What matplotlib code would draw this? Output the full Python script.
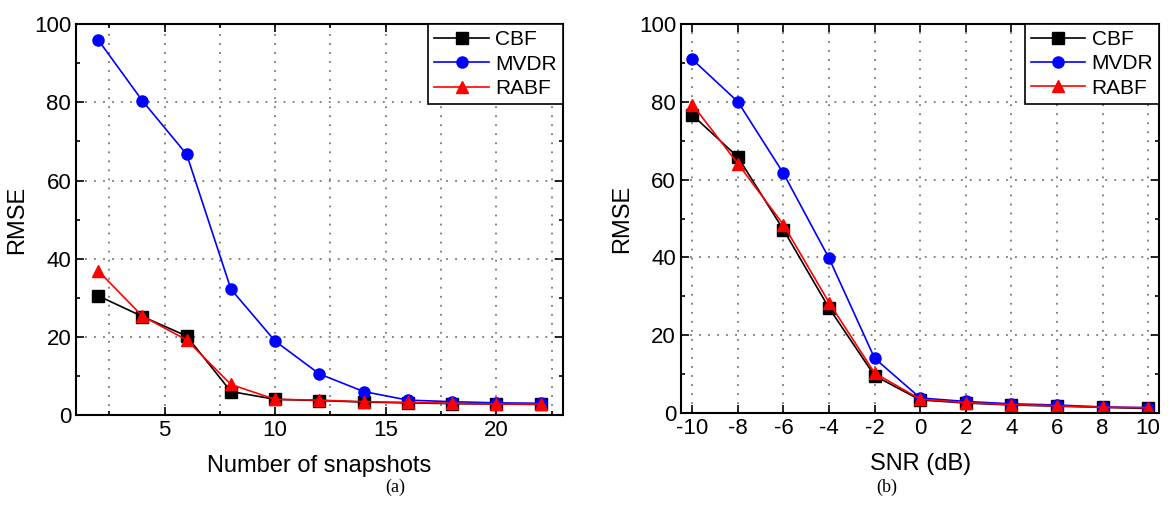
import matplotlib.pyplot as plt
from matplotlib.ticker import MultipleLocator

# ===============================================
# data
# ===============================================
snapshots = [2, 4, 6, 8, 10, 12, 14, 16, 18, 20, 22]
cbf_a = [30.5, 25.2, 20.2, 6.0, 4.0, 3.7, 3.3, 3.1, 2.9, 2.8, 2.7]
mvdr_a = [96.0, 80.4, 66.7, 32.2, 18.9, 10.5, 6.0, 3.8, 3.4, 3.1, 3.0]
rabf_a = [36.9, 25.3, 19.2, 7.8, 4.0, 3.8, 3.4, 3.2, 3.0, 2.8, 2.8]

snr = [-10, -8, -6, -4, -2, 0, 2, 4, 6, 8, 10]
cbf_b = [76.6, 65.8, 47.1, 27.0, 9.6, 3.4, 2.6, 2.1, 1.8, 1.5, 1.2]
mvdr_b = [90.9, 80.0, 61.6, 39.8, 14.1, 3.9, 3.0, 2.4, 2.1, 1.6, 1.4]
rabf_b = [79.3, 64.1, 48.4, 28.4, 10.3, 3.6, 2.7, 2.2, 1.9, 1.5, 1.4]

labels = ['CBF', 'MVDR', 'RABF']
colors = ['black', 'blue', 'red']
markers = ['s', 'o', '^']

plt.rcParams['font.family'] = ['Liberation Sans', 'DejaVu Sans']

fig = plt.figure(figsize=(11.7, 5.21), dpi=100)
ax1 = fig.add_axes([0.065, 0.2035, 0.416, 0.750])
ax2 = fig.add_axes([0.582, 0.207, 0.409, 0.747])

grid_style = dict(color='#777777', linestyle=(0, (1, 4)), linewidth=1.3)


def draw(ax, x, series, xlabel):
    for y, label, c, m in zip(series, labels, colors, markers):
        ax.plot(x, y, color=c, marker=m, markersize=8, linewidth=1.2, label=label)
    ax.set_ylim(0, 100)
    ax.yaxis.set_major_locator(MultipleLocator(20))
    ax.yaxis.set_minor_locator(MultipleLocator(10))
    ax.tick_params(which='both', direction='in', top=True, right=True, labelsize=16, width=1.2)
    ax.tick_params(which='major', length=6)
    ax.tick_params(which='minor', length=3)
    ax.set_xlabel(xlabel, fontsize=17, labelpad=10)
    ax.set_ylabel('RMSE', fontsize=17)
    for s in ax.spines.values():
        s.set_linewidth(1.5)
    leg = ax.legend(loc='upper right', fontsize=15, fancybox=False, framealpha=1,
                    edgecolor='black', borderaxespad=0, handlelength=2.6,
                    handletextpad=0.3, labelspacing=0.25, borderpad=0.3)
    leg.get_frame().set_linewidth(1.2)


draw(ax1, snapshots, [cbf_a, mvdr_a, rabf_a], 'Number of snapshots')
ax1.set_xlim(1, 23)
ax1.xaxis.set_major_locator(MultipleLocator(5))
ax1.xaxis.set_minor_locator(MultipleLocator(2.5))
ax1.xaxis.grid(True, which='both', **grid_style)
ax1.yaxis.grid(True, which='major', **grid_style)

draw(ax2, snr, [cbf_b, mvdr_b, rabf_b], 'SNR (dB)')
ax2.set_xlim(-10.5, 10.5)
ax2.set_xticks(snr)
ax2.set_xticklabels([str(v) for v in snr])
ax2.xaxis.grid(True, which='major', **grid_style)
ax2.yaxis.grid(True, which='major', **grid_style)

for ax in (ax1, ax2):
    ax.set_axisbelow(True)

fig.text(0.3375, 0.065, '(a)', ha='center', va='center', fontsize=13, family='Liberation Serif')
fig.text(0.758, 0.065, '(b)', ha='center', va='center', fontsize=13, family='Liberation Serif')

fig.savefig('out.png', dpi=100)
